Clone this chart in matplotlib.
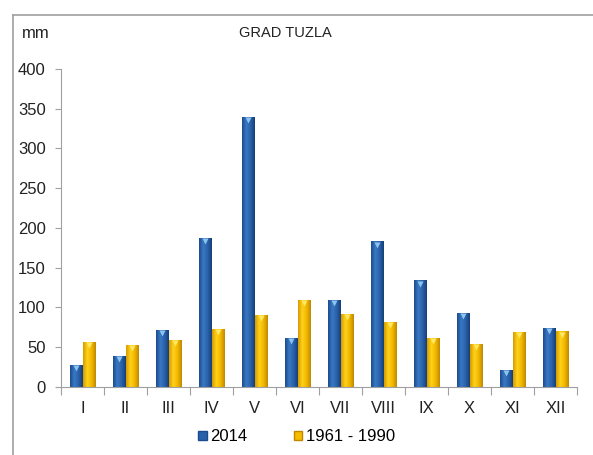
import matplotlib.pyplot as plt
import numpy as np
from matplotlib.colors import LinearSegmentedColormap
from matplotlib.patches import Rectangle
from matplotlib.lines import Line2D

plt.rcParams['font.family'] = ['Liberation Sans', 'DejaVu Sans']

months = ['I', 'II', 'III', 'IV', 'V', 'VI', 'VII', 'VIII', 'IX', 'X', 'XI', 'XII']
rain_2014 = [28, 39, 72, 187, 340, 62, 110, 183, 134, 93, 21, 74]
rain_1961_1990 = [57, 53, 59, 73, 91, 110, 92, 82, 62, 54, 69, 70]

fig = plt.figure(figsize=(5.93, 4.55), dpi=100)
ax = fig.add_axes([0.1029, 0.1495, 0.8702, 0.6989])

x = np.arange(len(months))
w = 0.29
blue_cm = LinearSegmentedColormap.from_list('b', ['#1c4c8c', '#3a78c4', '#2a62aa', '#163f78'])
yel_cm = LinearSegmentedColormap.from_list('y', ['#d79a00', '#ffd21a', '#f2b800', '#c08800'])
grad = np.linspace(0, 1, 64).reshape(1, -1)

bars1 = ax.bar(x - w / 2, rain_2014, w, color='#2a62aa', label='2014')
bars2 = ax.bar(x + w / 2, rain_1961_1990, w, color='#f5bc00', label='1961 - 1990')

# gradient fill inside each bar
for bars, cm in [(bars1, blue_cm), (bars2, yel_cm)]:
    for b in bars:
        x0, y0 = b.get_x(), b.get_y()
        bw, bh = b.get_width(), b.get_height()
        im = ax.imshow(grad, cmap=cm, aspect='auto', extent=(x0, x0 + bw, y0, y0 + bh),
                       zorder=b.get_zorder() + 0.1)
        im.set_clip_path(b)
        # light cap at the top
        ax.plot(x0 + bw / 2, y0 + bh - 4, marker='v', ms=5,
                color='#8cc4f0' if cm is blue_cm else '#ffe866',
                mec='none', zorder=3)

ax.set_xlim(-0.5, 11.5)
ax.set_ylim(0, 400)
ax.set_yticks(range(0, 401, 50))
ax.set_xticks(np.arange(-0.5, 12, 1))
ax.set_xticklabels([])
ax.set_xticks(x, minor=True)
ax.set_xticklabels(months, minor=True)
ax.tick_params(axis='x', which='major', length=6, color='#a0a0a0', direction='out')
ax.tick_params(axis='x', which='minor', length=0, pad=10, labelsize=12, labelcolor='#222222')
ax.tick_params(axis='y', length=4, color='#a0a0a0', labelsize=12, labelcolor='#222222', pad=7)
for s in ['top', 'right']:
    ax.spines[s].set_visible(False)
for s in ['left', 'bottom']:
    ax.spines[s].set_color('#a0a0a0')

fig.text(0.037, 0.927, 'mm', fontsize=12, ha='left', va='center', color='#222222')
fig.text(0.482, 0.927, 'GRAD TUZLA', fontsize=10.5, ha='center', va='center', color='#222222')

# outer frame (left and top edges)
fig.add_artist(Line2D([0.022, 0.022], [0, 0.967], color='#a0a0a0', lw=1.2, transform=fig.transFigure))
fig.add_artist(Line2D([0.022, 1], [0.967, 0.967], color='#a0a0a0', lw=1.2, transform=fig.transFigure))

handles = [Rectangle((0, 0), 1, 1, fc='#2a62aa', ec='#1c4c8c'),
           Rectangle((0, 0), 1, 1, fc='#f5bc00', ec='#c08800')]
fig.legend(handles, ['2014', '1961 - 1990'], loc='center', bbox_to_anchor=(0.5, 0.04),
           ncol=2, frameon=False, fontsize=12, handlelength=0.5, handleheight=0.5,
           handletextpad=0.2, columnspacing=2.8)

fig.savefig('out.png', dpi=100)
